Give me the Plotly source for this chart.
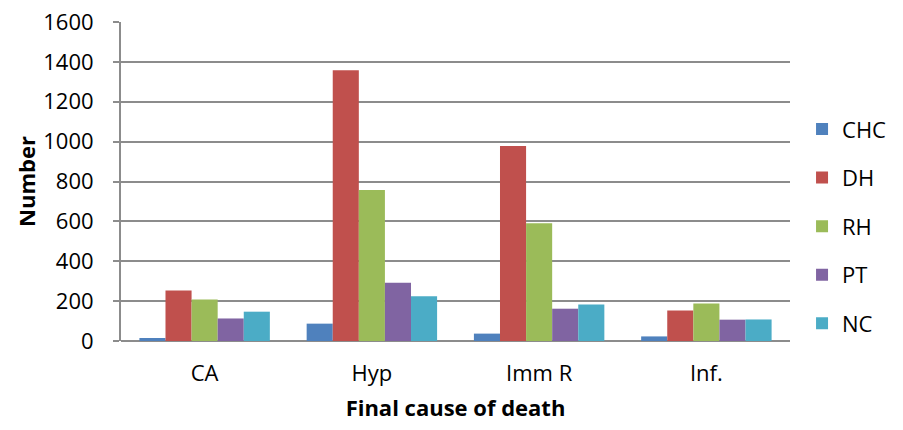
import plotly.graph_objects as go

categories = ["CA", "Hyp", "Imm R", "Inf."]
series_names = ["CHC", "DH", "RH", "PT", "NC"]
chc = [15, 87, 37, 23]
dh = [253, 1358, 978, 153]
rh = [208, 757, 590, 188]
pt = [113, 292, 162, 107]
nc = [147, 225, 183, 108]
colors = ["#4F81BD", "#C0504D", "#9BBB59", "#8064A2", "#4BACC6"]
y_ticks = [0, 200, 400, 600, 800, 1000, 1200, 1400, 1600]

FONT = "Open Sans"
FS = 22
fig = go.Figure()
for name, vals, col in zip(series_names, [chc, dh, rh, pt, nc], colors):
    fig.add_trace(go.Bar(name=name, x=categories, y=vals, marker_color=col,
                         marker_line_width=0, legendgroup=name))

fig.update_layout(
    width=903, height=430,
    margin=dict(l=113, r=121, t=14, b=97, autoexpand=False),
    paper_bgcolor="white", plot_bgcolor="white",
    barmode="group", bargap=0.22, bargroupgap=0,
    font=dict(family=FONT, size=FS, color="#000000"),
    legend=dict(x=1.018, y=0.36, xanchor="left", yanchor="middle",
                font=dict(size=FS), tracegroupgap=17, traceorder="grouped",
                itemwidth=30),
    xaxis=dict(
        title=dict(text="<b>Final cause of death</b>", font=dict(size=FS), standoff=14),
        showline=False, ticks="", tickfont=dict(size=FS), ticklabelstandoff=17,
    ),
    yaxis=dict(
        title=dict(text="<b>Number</b>", font=dict(size=FS), standoff=2),
        range=[0, 1600], tickvals=y_ticks, showgrid=True,
        gridcolor="#8C8C8C", gridwidth=2,
        zeroline=True, zerolinecolor="#8C8C8C", zerolinewidth=2,
        showline=True, linecolor="#8C8C8C", linewidth=2,
        ticks="outside", ticklen=6, tickcolor="#8C8C8C", tickwidth=2,
        tickfont=dict(size=FS), ticklabelstandoff=15,
        ticklabeloverflow="allow",
    ),
)
fig.write_html("out.html")
